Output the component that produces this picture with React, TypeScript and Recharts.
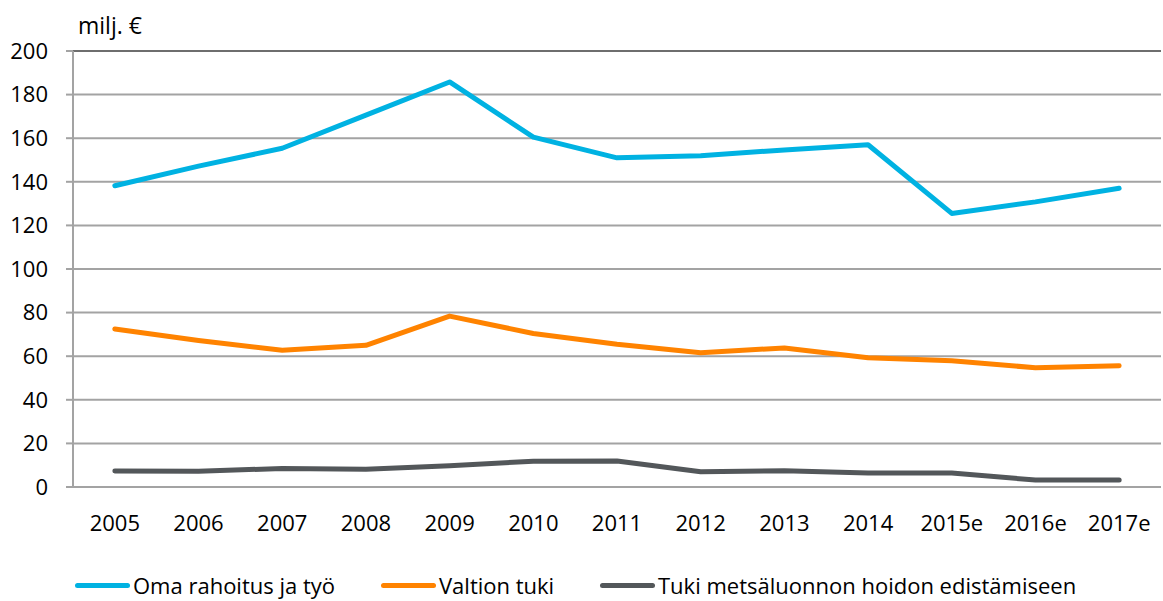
import { LineChart, Line, XAxis, YAxis, CartesianGrid, ReferenceLine } from 'recharts';

// Year labels on the category axis
const years = ['2005', '2006', '2007', '2008', '2009', '2010', '2011', '2012', '2013', '2014', '2015e', '2016e', '2017e'];

// Values in milj. €
const omaRahoitus = [138.2, 147.2, 155.4, 170.6, 185.8, 160.5, 151, 152, 154.6, 157, 125.5, 130.8, 137];
const valtionTuki = [72.5, 67.2, 62.7, 65, 78.4, 70.4, 65.5, 61.6, 63.8, 59.3, 57.9, 54.7, 55.6];
const metsaluonto = [7.3, 7.2, 8.5, 8.1, 9.8, 11.8, 11.9, 7.0, 7.5, 6.4, 6.4, 3.2, 3.2];

const yTicks = [0, 20, 40, 60, 80, 100, 120, 140, 160, 180, 200];
// boundaries between categories, for the Excel-style tick marks
const bandEdges = years.map((_, i) => i).concat(years.length);

const series = [
  { key: 'oma', name: 'Oma rahoitus ja työ', color: '#00B2E2', values: omaRahoitus },
  { key: 'valtio', name: 'Valtion tuki', color: '#FF8300', values: valtionTuki },
  { key: 'metsa', name: 'Tuki metsäluonnon hoidon edistämiseen', color: '#53575A', values: metsaluonto },
];

// legend item left edges (px), matched to the original layout
const legendLeft = [75, 381, 600];

const data = years.map((year, i) => {
  const row: Record<string, string | number> = { year };
  series.forEach(s => {
    row[s.key] = s.values[i];
  });
  return row;
});

const FONT = '"Open Sans", "Noto Sans", sans-serif';
const GRID = '#A3A3A3';

export default function App() {
  return (
    <div style={{ position: 'absolute', left: 0, top: 0, width: 1163, height: 601, background: '#fff', fontFamily: FONT }}>
      <div style={{ position: 'absolute', left: 78, top: 9, fontSize: 23, color: '#000' }}>milj. €</div>
      <LineChart width={1163} height={601} data={data} margin={{ top: 51, right: 2, bottom: 54, left: 0 }}>
        <CartesianGrid vertical={false} stroke={GRID} strokeWidth={2} xAxisId="cat" />
        {/* tick marks at the band edges, no labels */}
        <XAxis
          xAxisId="marks"
          type="number"
          domain={[0, years.length]}
          ticks={bandEdges}
          tick={false}
          tickSize={7}
          height={0}
          axisLine={{ stroke: GRID, strokeWidth: 2 }}
          tickLine={{ stroke: GRID, strokeWidth: 2 }}
        />
        <XAxis
          xAxisId="cat"
          dataKey="year"
          scale="band"
          axisLine={false}
          tickLine={false}
          tickMargin={22}
          height={60}
          interval={0}
          tick={{ fill: '#000', fontSize: 22, fontFamily: FONT }}
        />
        <YAxis
          domain={[0, 200]}
          ticks={yTicks}
          width={73}
          tickSize={7}
          tickMargin={18}
          axisLine={{ stroke: GRID, strokeWidth: 2 }}
          tickLine={{ stroke: GRID, strokeWidth: 2 }}
          tick={{ fill: '#000', fontSize: 22, fontFamily: FONT }}
        />
        <ReferenceLine y={200} xAxisId="cat" stroke="#6E6E6E" strokeWidth={2} />
        <ReferenceLine x={years.length} xAxisId="marks" stroke={GRID} strokeWidth={2} />
        {series.map(s => (
          <Line
            key={s.key}
            xAxisId="cat"
            type="linear"
            dataKey={s.key}
            name={s.name}
            stroke={s.color}
            strokeWidth={5}
            strokeLinecap="round"
            strokeLinejoin="round"
            dot={false}
            isAnimationActive={false}
          />
        ))}
      </LineChart>
      {/* legend */}
      {series.map((s, i) => (
        <div
          key={s.key}
          style={{ position: 'absolute', left: legendLeft[i], top: 570, display: 'flex', alignItems: 'center', fontSize: 22, color: '#000' }}
        >
          <div style={{ width: 55, height: 5, borderRadius: 3, background: s.color, marginRight: 3 }} />
          <span style={{ whiteSpace: 'nowrap' }}>{s.name}</span>
        </div>
      ))}
    </div>
  );
}
